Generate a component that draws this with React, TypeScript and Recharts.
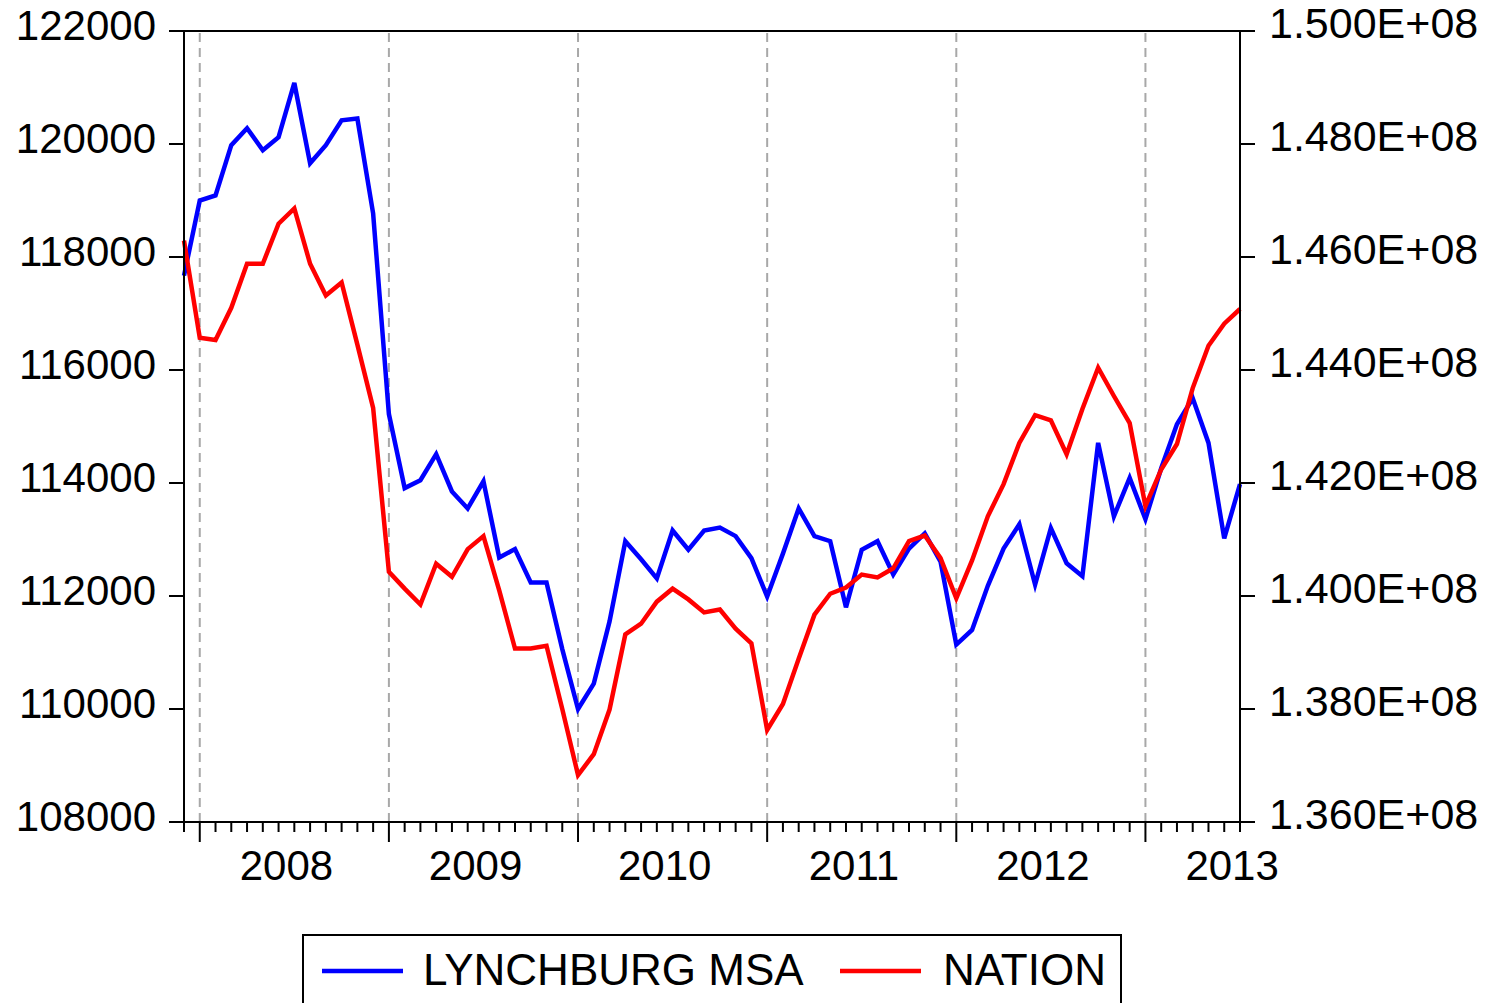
import React from 'react';
import { LineChart, Line, XAxis, YAxis, ReferenceLine, Legend } from 'recharts';

const FONT = '"Liberation Sans", Arial, Helvetica, sans-serif';

// Monthly categories, Dec 2007 .. Jul 2013
const months = [
  '2007-12',
  '2008-01', '2008-02', '2008-03', '2008-04', '2008-05', '2008-06', '2008-07', '2008-08', '2008-09', '2008-10', '2008-11', '2008-12',
  '2009-01', '2009-02', '2009-03', '2009-04', '2009-05', '2009-06', '2009-07', '2009-08', '2009-09', '2009-10', '2009-11', '2009-12',
  '2010-01', '2010-02', '2010-03', '2010-04', '2010-05', '2010-06', '2010-07', '2010-08', '2010-09', '2010-10', '2010-11', '2010-12',
  '2011-01', '2011-02', '2011-03', '2011-04', '2011-05', '2011-06', '2011-07', '2011-08', '2011-09', '2011-10', '2011-11', '2011-12',
  '2012-01', '2012-02', '2012-03', '2012-04', '2012-05', '2012-06', '2012-07', '2012-08', '2012-09', '2012-10', '2012-11', '2012-12',
  '2013-01', '2013-02', '2013-03', '2013-04', '2013-05', '2013-06', '2013-07',
];

// LYNCHBURG MSA (left axis)
const lynchburg = [
  117670,
  119000, 119090, 119980, 120280, 119890, 120120, 121080, 119660, 119980, 120420, 120450, 118770,
  115220, 113910, 114050, 114510, 113850, 113550, 114030, 112680, 112830, 112240, 112240, 111060,
  110000, 110450, 111550, 112970, 112650, 112310, 113160, 112820, 113160, 113210, 113060, 112670,
  111990, 112750, 113550, 113060, 112970, 111800, 112820, 112970, 112380, 112840, 113110, 112610,
  111140, 111400, 112180, 112840, 113270, 112200, 113200, 112580, 112350, 114710, 113410, 114090,
  113360, 114260, 115040, 115500, 114710, 113020, 113980,
];

// NATION (right axis)
const nation = [
  146290000,
  144570000, 144530000, 145100000, 145880000, 145880000, 146590000, 146860000, 145880000, 145320000, 145550000, 144450000, 143330000,
  140430000, 140130000, 139850000, 140570000, 140340000, 140830000, 141060000, 140100000, 139070000, 139070000, 139120000, 138000000,
  136830000, 137200000, 137990000, 139320000, 139510000, 139900000, 140130000, 139940000, 139710000, 139760000, 139420000, 139160000,
  137630000, 138090000, 138890000, 139670000, 140040000, 140150000, 140380000, 140330000, 140490000, 140970000, 141070000, 140670000,
  139960000, 140630000, 141410000, 141980000, 142710000, 143200000, 143110000, 142510000, 143310000, 144040000, 143540000, 143060000,
  141590000, 142240000, 142690000, 143680000, 144430000, 144820000, 145080000,
];

const yearLabels = ['2008', '2009', '2010', '2011', '2012', '2013'];
const leftTicks = [108000, 110000, 112000, 114000, 116000, 118000, 120000, 122000];
const rightTicks = [136000000, 138000000, 140000000, 142000000, 144000000, 146000000, 148000000, 150000000];

const data = months.map((m, i) => ({ idx: i, month: m, lynchburg: lynchburg[i], nation: nation[i] }));
const yearStarts = months.map((m, i) => (m.endsWith('-01') ? i : -1)).filter((i) => i >= 0);
const labelPositions = yearStarts.map((i) => i + 5.5);
const xTicks = [...months.map((_, i) => i), ...labelPositions];

const XTick = (p: any) => {
  const v = p.payload.value;
  if (Number.isInteger(v)) {
    const major = yearStarts.includes(v);
    return <line x1={p.x} x2={p.x} y1={p.y} y2={p.y + (major ? 20 : 10)} stroke="#000" strokeWidth={2} />;
  }
  const k = labelPositions.indexOf(v);
  return (
    <text x={p.x} y={p.y + 58} textAnchor="middle" fontSize={42} fontFamily={FONT} fill="#000">
      {yearLabels[k]}
    </text>
  );
};

const LeftTick = (p: any) => (
  <text x={p.x} y={p.y + 9} textAnchor="end" fontSize={42} fontFamily={FONT} fill="#000">
    {p.payload.value}
  </text>
);

const RightTick = (p: any) => (
  <text x={p.x} y={p.y + 7} textAnchor="start" fontSize={43} fontFamily={FONT} fill="#000">
    {(p.payload.value / 1e8).toFixed(3) + 'E+08'}
  </text>
);

const LegendBox = () => (
  <div style={{ width: 820, height: 80, border: '2px solid #000', boxSizing: 'border-box', background: '#fff' }}>
    <svg width={816} height={76} style={{ display: 'block' }}>
      <line x1={18} x2={99} y1={35} y2={35} stroke="#0000ff" strokeWidth={4.5} />
      <text x={119} y={49} fontSize={44} fontFamily={FONT} fill="#000">LYNCHBURG MSA</text>
      <line x1={536} x2={617} y1={35} y2={35} stroke="#ff0000" strokeWidth={4.5} />
      <text x={639} y={49} fontSize={44} fontFamily={FONT} fill="#000">NATION</text>
    </svg>
  </div>
);

export default function App() {
  return (
    <div style={{ width: 1494, height: 1003, position: 'relative', overflow: 'hidden', fontFamily: FONT, background: '#fff' }}>
      <style>{`html,body{margin:0;padding:0;overflow:hidden;background:#fff}`}</style>
      <LineChart width={1494} height={1003} data={data} margin={{ top: 31, right: 0, bottom: 121, left: 0 }}>
        <XAxis
          dataKey="idx"
          type="number"
          domain={[0, months.length - 1]}
          ticks={xTicks}
          interval={0}
          tickLine={false}
          tickSize={0}
          tickMargin={0}
          tick={<XTick />}
          axisLine={{ stroke: '#000', strokeWidth: 2 }}
          height={60}
        />
        <YAxis
          yAxisId="left"
          orientation="left"
          width={184}
          domain={[108000, 122000]}
          ticks={leftTicks}
          interval={0}
          tickSize={15}
          tickMargin={13}
          tick={<LeftTick />}
          tickLine={{ stroke: '#000', strokeWidth: 2 }}
          axisLine={{ stroke: '#000', strokeWidth: 2 }}
          allowDataOverflow
        />
        <YAxis
          yAxisId="right"
          orientation="right"
          width={254}
          domain={[136000000, 150000000]}
          ticks={rightTicks}
          interval={0}
          tickSize={15}
          tickMargin={14}
          tick={<RightTick />}
          tickLine={{ stroke: '#000', strokeWidth: 2 }}
          axisLine={{ stroke: '#000', strokeWidth: 2 }}
          allowDataOverflow
        />
        {yearStarts.map((i) => (
          <ReferenceLine key={i} x={i} yAxisId="left" stroke="#a8a8a8" strokeWidth={2} strokeDasharray="9 6" />
        ))}
        <ReferenceLine y={122000} yAxisId="left" stroke="#000" strokeWidth={2} />
        <Legend
          layout="horizontal"
          align="center"
          verticalAlign="middle"
          wrapperStyle={{ left: 302, top: 934, width: 820, height: 80 }}
          content={() => <LegendBox />}
        />
        <Line
          yAxisId="left"
          type="linear"
          dataKey="lynchburg"
          name="LYNCHBURG MSA"
          stroke="#0000ff"
          strokeWidth={4.5}
          dot={false}
          isAnimationActive={false}
        />
        <Line
          yAxisId="right"
          type="linear"
          dataKey="nation"
          name="NATION"
          stroke="#ff0000"
          strokeWidth={4.5}
          dot={false}
          isAnimationActive={false}
        />
      </LineChart>
    </div>
  );
}
